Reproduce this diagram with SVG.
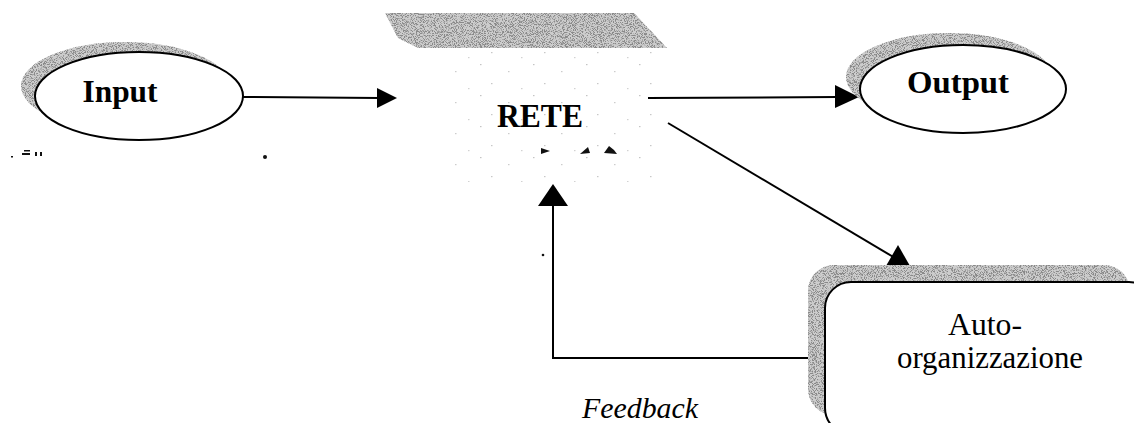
<svg xmlns="http://www.w3.org/2000/svg" width="1134" height="423" viewBox="0 0 1134 423">
  <defs>
    <!-- stippled grey used for the drop shadows -->
    <filter id="grain" x="0" y="0" width="1" height="1" filterUnits="objectBoundingBox">
      <feTurbulence type="fractalNoise" baseFrequency="1.1" numOctaves="2" seed="7" result="noise"/>
      <feColorMatrix in="noise" type="matrix" values="0 0 0 0 0.25  0 0 0 0 0.25  0 0 0 0 0.25  7 0 0 0 -3.3" result="speck"/>
      <feComposite in="speck" in2="SourceGraphic" operator="in" result="dots"/>
      <feMerge>
        <feMergeNode in="SourceGraphic"/>
        <feMergeNode in="dots"/>
      </feMerge>
    </filter>
    <!-- faint dotted halo round the network label -->
    <pattern id="faint" width="53" height="31" patternUnits="userSpaceOnUse">
      <rect x="3" y="2" width="1.5" height="1.2" fill="#c4c4c4"/>
      <rect x="31" y="9" width="1.5" height="1.2" fill="#cccccc"/>
      <rect x="14" y="21" width="1.5" height="1.2" fill="#c8c8c8"/>
      <rect x="44" y="26" width="1.5" height="1.2" fill="#d2d2d2"/>
    </pattern>
  </defs>
  <style>
    .shadow { fill: #cdcdcd; filter: url(#grain); }
    .shape { fill: #ffffff; stroke: #000000; stroke-width: 2; }
    .wire { fill: none; stroke: #000000; stroke-width: 2; }
    .head { fill: #000000; }
    .bold { font-family: "Liberation Serif", "Times New Roman", serif; font-weight: bold; fill: #000000; }
    .plain { font-family: "Liberation Serif", "Times New Roman", serif; fill: #000000; }
    .speck { fill: #111111; }
  </style>

  <rect width="1134" height="423" fill="#ffffff"/>

  <!-- connectors -->
  <g id="connectors">
    <!-- Input -> RETE -->
    <line class="wire" x1="243" y1="97" x2="380" y2="98"/>
    <polygon class="head" points="397,98 377,88 377,108"/>
    <!-- RETE -> Output -->
    <line class="wire" x1="648" y1="98" x2="838" y2="97"/>
    <polygon class="head" points="859,97 835,85 835,108"/>
    <!-- RETE -> Auto-organizzazione -->
    <line class="wire" x1="668" y1="123" x2="895" y2="258"/>
    <polygon class="head" points="898,245 910,266 886,266"/>
    <!-- feedback loop back into RETE -->
    <polyline class="wire" points="826,358 553,358 553,203"/>
    <polygon class="head" points="553,184 568,206 538,206"/>
  </g>

  <!-- Input -->
  <g id="node-input">
    <ellipse class="shadow" cx="125" cy="86" rx="104" ry="44"/>
    <ellipse class="shape" cx="139" cy="96" rx="104" ry="44"/>
    <text class="bold" x="120" y="102" font-size="32" text-anchor="middle" textLength="75" lengthAdjust="spacingAndGlyphs">Input</text>
  </g>

  <!-- RETE -->
  <g id="node-rete">
    <rect x="440" y="52" width="220" height="130" fill="url(#faint)"/>
    <polygon class="shadow" points="385,13 634,13 667,48 418,48 398,38"/>
    <text class="bold" x="540" y="127" font-size="34" text-anchor="middle" textLength="86" lengthAdjust="spacingAndGlyphs">RETE</text>
    <polygon class="speck" points="541,148 550,151 541,154"/>
    <polygon class="speck" points="580,154 588,147 590,153"/>
    <polygon class="speck" points="604,153 609,146 614,150 617,154"/>
  </g>

  <!-- Output -->
  <g id="node-output">
    <ellipse class="shadow" cx="949" cy="77" rx="103" ry="44"/>
    <ellipse class="shape" cx="963" cy="89" rx="103" ry="44"/>
    <text class="bold" x="958" y="93" font-size="32" text-anchor="middle" textLength="102" lengthAdjust="spacingAndGlyphs">Output</text>
  </g>

  <!-- Auto-organizzazione -->
  <g id="node-auto">
    <rect class="shadow" x="808" y="265" width="322" height="150" rx="26"/>
    <rect class="shape" x="825" y="282" width="330" height="152" rx="26"/>
    <text class="plain" x="985" y="335" font-size="31" text-anchor="middle" textLength="74" lengthAdjust="spacingAndGlyphs">Auto-</text>
    <text class="plain" x="990" y="368" font-size="31" text-anchor="middle" textLength="186" lengthAdjust="spacingAndGlyphs">organizzazione</text>
  </g>

  <!-- Feedback label -->
  <g id="label-feedback">
    <text class="plain" x="640" y="418" font-size="30" font-style="italic" text-anchor="middle" textLength="116" lengthAdjust="spacingAndGlyphs">Feedback</text>
  </g>

  <!-- stray print marks -->
  <g id="marks">
    <rect class="speck" x="22" y="153" width="8" height="2"/>
    <rect class="speck" x="24" y="150" width="6" height="1.5"/>
    <rect class="speck" x="35" y="152" width="2" height="4"/>
    <rect class="speck" x="40" y="152" width="2" height="4"/>
    <rect class="speck" x="11" y="156" width="2" height="1.5"/>
    <circle class="speck" cx="265" cy="157" r="2"/>
    <circle class="speck" cx="543" cy="255" r="1.3"/>
  </g>
</svg>
